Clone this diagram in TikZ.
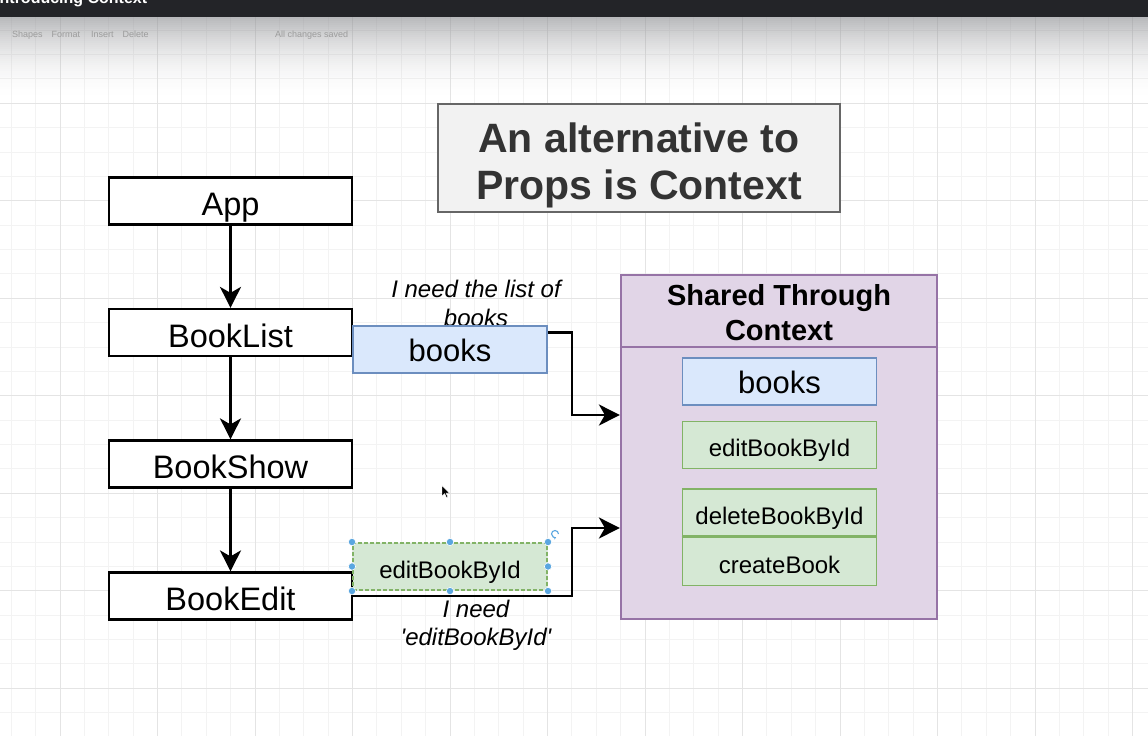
\documentclass[tikz,border=0pt]{standalone}
\usepackage{fontspec}
\setmainfont{Liberation Sans}
\usetikzlibrary{arrows.meta}
\definecolor{barcol}{HTML}{232428}
\definecolor{gridmin}{HTML}{F3F3F3}
\definecolor{gridmaj}{HTML}{E4E4E4}
\definecolor{bluefill}{HTML}{DAE8FC}
\definecolor{blueline}{HTML}{6C8EBF}
\definecolor{greenfill}{HTML}{D5E8D4}
\definecolor{greenline}{HTML}{82B366}
\definecolor{purfill}{HTML}{E1D5E7}
\definecolor{purline}{HTML}{9673A6}
\definecolor{titlefill}{HTML}{F2F2F2}
\definecolor{titleline}{HTML}{666666}
\definecolor{titletext}{HTML}{333333}
\definecolor{handlecol}{HTML}{5AA6E0}
\definecolor{shadetop}{HTML}{8E8F93}
\definecolor{tooltext}{HTML}{9C9C9C}
\begin{document}
\begin{tikzpicture}[x=1pt,y=-1pt,
  minorline/.style={draw=gridmin, line width=1pt},
  majorline/.style={draw=gridmaj, line width=1pt},
  comp/.style={draw=black, line width=2.2pt, fill=white, minimum width=243pt, minimum height=47pt,
    inner sep=0pt, text height=29.5pt, text depth=0pt, font=\fontsize{32.5}{39}\selectfont},
  bluebox/.style={draw=blueline, line width=1.8pt, fill=bluefill, minimum width=194pt, minimum height=47pt,
    inner sep=0pt, text height=24pt, text depth=0pt, font=\fontsize{31}{37}\selectfont},
  greenbox/.style={draw=greenline, line width=1.8pt, fill=greenfill, minimum width=194pt, minimum height=47pt,
    inner sep=0pt, text height=23.6pt, text depth=0pt, font=\fontsize{24}{29}\selectfont},
  note/.style={inner sep=0pt, align=center, anchor=north, font=\itshape\fontsize{24}{28}\selectfont},
  conn/.style={draw=black, line width=2.5pt, -{Stealth[length=21pt,width=21pt,inset=6pt]}},
  handle/.style={fill=handlecol, draw=white, line width=0.5pt}
]
\useasboundingbox (0,0) rectangle (1148,736);
\clip (0,0) rectangle (1148,736);
\fill[white] (0,0) rectangle (1148,736);
% grid
\foreach \i in {-2,...,44} {\draw[minorline] (60+24.375*\i,17) -- (60+24.375*\i,736);}
\foreach \i in {-28,...,2} {\draw[minorline] (0,688.3+24.375*\i) -- (1148,688.3+24.375*\i);}
\foreach \i in {0,...,11} {\draw[majorline] (60+97.5*\i,17) -- (60+97.5*\i,736);}
\foreach \i in {-7,...,0} {\draw[majorline] (0,688.3+97.5*\i) -- (1148,688.3+97.5*\i);}
% window chrome: toolbar shadow fading downwards
\foreach \k in {0,...,40} {
  \pgfmathsetmacro{\op}{0.62*(1-\k/41)^2}
  \fill[shadetop, opacity=\op] (0,17+2*\k) rectangle (1148,19+2*\k);
}
\fill[barcol] (0,0) rectangle (1148,17);
\node[anchor=base west, inner sep=0pt, text=white, font=\bfseries\fontsize{16}{18}\selectfont] (wintitle) at (-5,3) {Introducing Context};
\node[anchor=base west, inner sep=0pt, text=tooltext, font=\fontsize{9}{10}\selectfont] (tbshapes) at (12,37) {Shapes\quad Format};
\node[anchor=base west, inner sep=0pt, text=tooltext, font=\fontsize{9}{10}\selectfont] (tbinsert) at (91,37) {Insert\quad Delete};
\node[anchor=base west, inner sep=0pt, text=tooltext, font=\fontsize{9}{10}\selectfont] (tbsaved) at (275,37) {All changes saved};

% title
\node[draw=titleline, line width=2pt, fill=titlefill, minimum width=402pt, minimum height=108pt, inner sep=0pt] (title) at (639,158) {};
\node[inner sep=0pt, align=center, anchor=north, text=titletext, font=\bfseries\fontsize{41}{47}\selectfont] (titletxt) at (639,123) {An alternative to\\Props is Context};

% labels
\node[note, font=\itshape\fontsize{24}{29.5}\selectfont] (needlist) at (476,279.5) {I need the list of\\books};
\node[note] (neededit) at (476,599.5) {I need\\\textquotesingle editBookById\textquotesingle};

% component tree
\node[comp] (app) at (230.5,201) {App};
\node[comp] (booklist) at (230.5,332.5) {BookList};
\node[comp] (bookshow) at (230.5,464) {BookShow};
\node[comp] (bookedit) at (230.5,596) {BookEdit};

% context box
\node[draw=purline, line width=2.2pt, fill=purfill, minimum width=316pt, minimum height=344pt, inner sep=0pt] (ctx) at (779,447) {};
\draw[draw=purline, line width=2.2pt] (ctx.west |- 0,347) -- (ctx.east |- 0,347);
\node[inner sep=0pt, align=center, anchor=north, font=\bfseries\fontsize{29}{35}\selectfont] (ctxhead) at (779,284) {Shared Through\\Context};
\node[bluebox] (cbooks) at (779.5,381.5) {books};
\node[greenbox] (cedit) at (779.5,445) {editBookById};
\node[greenbox] (cdelete) at (779.5,512.5) {deleteBookById};
\node[greenbox, minimum height=48pt] (ccreate) at (779.5,561.5) {createBook};
\draw[greenline, line width=1.8pt] (cdelete.south west) -- (cdelete.south east);

% connectors
\draw[conn] (app) -- (booklist);
\draw[conn] (booklist) -- (bookshow);
\draw[conn] (bookshow) -- (bookedit);
\draw[conn] (booklist.east) -- ++(219,0) |- ([yshift=32pt]ctx.west);
\draw[conn] (bookedit.east) -- ++(219,0) |- ([yshift=-81pt]ctx.west);

% props boxes on top
\node[bluebox] (books) at (450,349.5) {books};
\node[greenbox, dashed, dash pattern=on 4pt off 2pt] (editprop) at (450,566.5) {editBookById};
\foreach \hx/\hy in {352/542,450/542,548/542,352/566.5,548/566.5,352/591,450/591,548/591}
  {\fill[handle] (\hx,\hy) circle (3.6pt);}
\draw[handlecol, line width=1.1pt, -{Stealth[length=2.5pt,width=3pt]}] (558.5,534) arc[start angle=0, end angle=290, radius=3.5pt];
% mouse pointer
\fill[black, draw=white, line width=0.4pt] (442,485.5) -- (442,496) -- (444.6,493.6) -- (446.5,497.5) -- (447.8,496.9) -- (446,493) -- (449.5,493) -- cycle;
\end{tikzpicture}
\end{document}
